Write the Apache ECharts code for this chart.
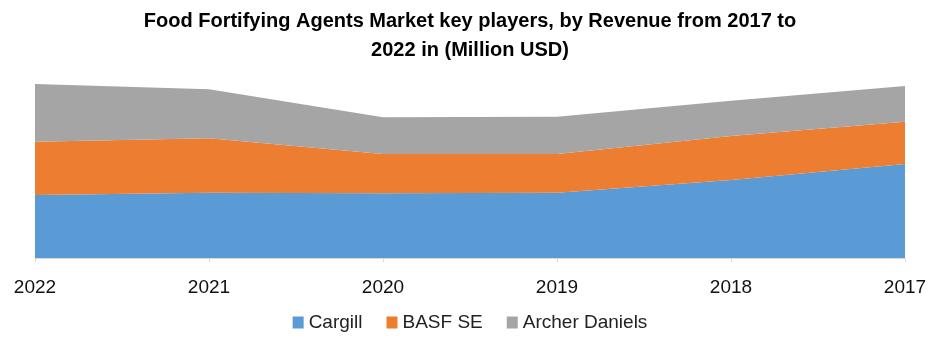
<!DOCTYPE html>
<html>
<head>
<meta charset="utf-8">
<script src="https://cdn.jsdelivr.net/npm/echarts@6/dist/echarts.min.js"></script>
<style>
  html, body { margin: 0; padding: 0; background: #fff; }
  #chart { width: 940px; height: 353px; }
</style>
</head>
<body>
<div id="chart"></div>
<script>
const years = ['2022', '2021', '2020', '2019', '2018', '2017']
const cargill = [630, 653, 647, 653, 780, 940]
const basf = [533, 544, 393, 387, 440, 423]
const archer = [577, 490, 367, 373, 353, 357]

const colors = ['#5B9BD5', '#ED7D31', '#A5A5A5']

const chart = echarts.init(document.getElementById('chart'))

const areaSeries = (name, data, color) => ({
  name,
  type: 'line',
  stack: 'total',
  data,
  symbol: 'none',
  lineStyle: { width: 0 },
  areaStyle: { color, opacity: 1 },
  itemStyle: { color }
})

chart.setOption({
  animation: false,
  title: {
    text: 'Food Fortifying Agents Market key players, by Revenue from 2017 to\n2022 in (Million USD)',
    left: 'center',
    top: 2,
    textStyle: {
      fontFamily: 'Liberation Sans',
      fontWeight: 'bold',
      fontSize: 20,
      lineHeight: 29,
      color: '#000'
    }
  },
  legend: {
    top: 308,
    left: 'center',
    icon: 'rect',
    itemWidth: 11,
    itemHeight: 12,
    itemGap: 24,
    textStyle: { fontFamily: 'Liberation Sans', fontSize: 19, color: '#222' },
    data: ['Cargill', 'BASF SE', 'Archer Daniels']
  },
  grid: { left: 35, right: 35, top: 70, bottom: 95 },
  xAxis: {
    type: 'category',
    data: years,
    boundaryGap: false,
    axisLine: { lineStyle: { color: '#d9d9d9' } },
    axisTick: { show: true, length: 4, lineStyle: { color: '#d9d9d9' } },
    axisLabel: { fontFamily: 'Liberation Sans', fontSize: 19, color: '#111', margin: 20 }
  },
  yAxis: {
    type: 'value',
    min: 0,
    max: 1880,
    show: false,
    splitLine: { show: false }
  },
  series: [
    areaSeries('Cargill', cargill, colors[0]),
    areaSeries('BASF SE', basf, colors[1]),
    areaSeries('Archer Daniels', archer, colors[2])
  ]
})
</script>
</body>
</html>
